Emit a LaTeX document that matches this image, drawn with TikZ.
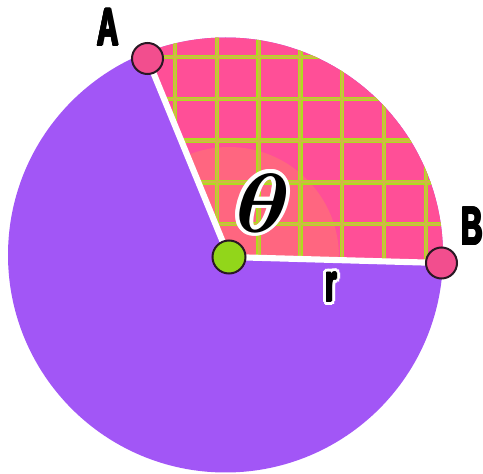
\documentclass[tikz,border=0pt]{standalone}
\usepackage{amsmath}
\usepackage{fontspec}
\setmainfont{Liberation Sans}
\usepackage{graphicx}
\definecolor{purp}{HTML}{A256F6}
\definecolor{pinkc}{HTML}{FF4F97}
\definecolor{glowc}{HTML}{FF6680}
\definecolor{gridg}{HTML}{AEDC1E}
\definecolor{grido}{HTML}{D2B548}
\definecolor{dotline}{HTML}{2A1824}
\definecolor{dotpink}{HTML}{F24E8E}
\definecolor{dotgreen}{HTML}{92D61A}
\pgfdeclareradialshading{glow}{\pgfpoint{0bp}{0bp}}{color(0bp)=(glowc); color(30bp)=(glowc); color(50bp)=(pinkc)}
\newcommand{\lab}[1]{\scalebox{0.56}[1]{\fontsize{40}{40}\selectfont\bfseries #1}}
\newcommand{\thetalab}{\scalebox{7}[6.3]{$\boldsymbol{\theta}$}}
\begin{document}
\begin{tikzpicture}[x=0.75pt,y=-0.75pt,
  dotpk/.style={circle,draw=dotline,line width=1.5pt,fill=dotpink,minimum size=23.25pt,inner sep=0pt},
  dotgr/.style={circle,draw=dotline,line width=1.5pt,fill=dotgreen,minimum size=24.75pt,inner sep=0pt},
  radius line/.style={white,line width=4.6pt},
  gridunder/.style={gridg,line width=3.4pt},
  gridover/.style={grido,line width=1.6pt},
  letter/.style={inner sep=0pt,text=black}]
\useasboundingbox (0,0) rectangle (483,474);
\coordinate (O) at (225.5,255);
\coordinate (cC) at (229,257);
\coordinate (cA) at (147.5,58.5);
\coordinate (cB) at (441.5,263);
% purple disc
\fill[purp] (O) circle (217.5*0.75pt);
% pink sector with grid
\begin{scope}
  \clip (O) circle (217.5*0.75pt);
  \clip (cC) -- (107,-40) -- (560,-40) -- (560,266.3) -- cycle;
  \fill[pinkc] (0,0) rectangle (483,300);
  \shade[shading=glow] (cC) circle (110*0.75pt);
  \foreach \x in {175,216.8,258.6,300.4,342.2,384,425.8} \draw[gridunder] (\x,0) -- (\x,300);
  \foreach \y in {57,98.8,140.6,182.4,224.2} \draw[gridunder] (100,\y) -- (470,\y);
  \foreach \x in {175,216.8,258.6,300.4,342.2,384,425.8} \draw[gridover] (\x,0) -- (\x,300);
  \foreach \y in {57,98.8,140.6,182.4,224.2} \draw[gridover] (100,\y) -- (470,\y);
\end{scope}
% radii
\draw[radius line] (cC) -- (cA);
\draw[radius line] (cC) -- (cB);
% points
\node[dotpk] (A) at (cA) {};
\node[dotpk] (B) at (cB) {};
\node[dotgr] (C) at (cC) {};
% labels (heavy: drawn with small offset copies)
\foreach \a [count=\i] in {0,45,...,315} {
  \node[letter,shift={(\a:0.7pt)}] (labAb\i) at (108,27.5) {\lab{A}};
  \node[letter,shift={(\a:0.7pt)}] (labBb\i) at (472,226) {\lab{B}};
}
\node[letter] (labA) at (108,27.5) {\lab{A}};
\node[letter] (labB) at (472,226) {\lab{B}};
\foreach \a [count=\i] in {0,22.5,...,337.5}
  \node[letter,text=white,shift={(\a:3pt)}] (rw\i) at (331,287) {\lab{r}};
\foreach \a [count=\i] in {0,45,...,315}
  \node[letter,shift={(\a:0.7pt)}] (rb\i) at (331,287) {\lab{r}};
\node[letter] (labr) at (331,287) {\lab{r}};
\foreach \a [count=\i] in {0,22.5,...,337.5}
  \node[letter,text=white,shift={(\a:2.8pt)}] (tw\i) at (263,203) {\thetalab};
\node[letter] (labt) at (263,203) {\thetalab};
\end{tikzpicture}
\end{document}
